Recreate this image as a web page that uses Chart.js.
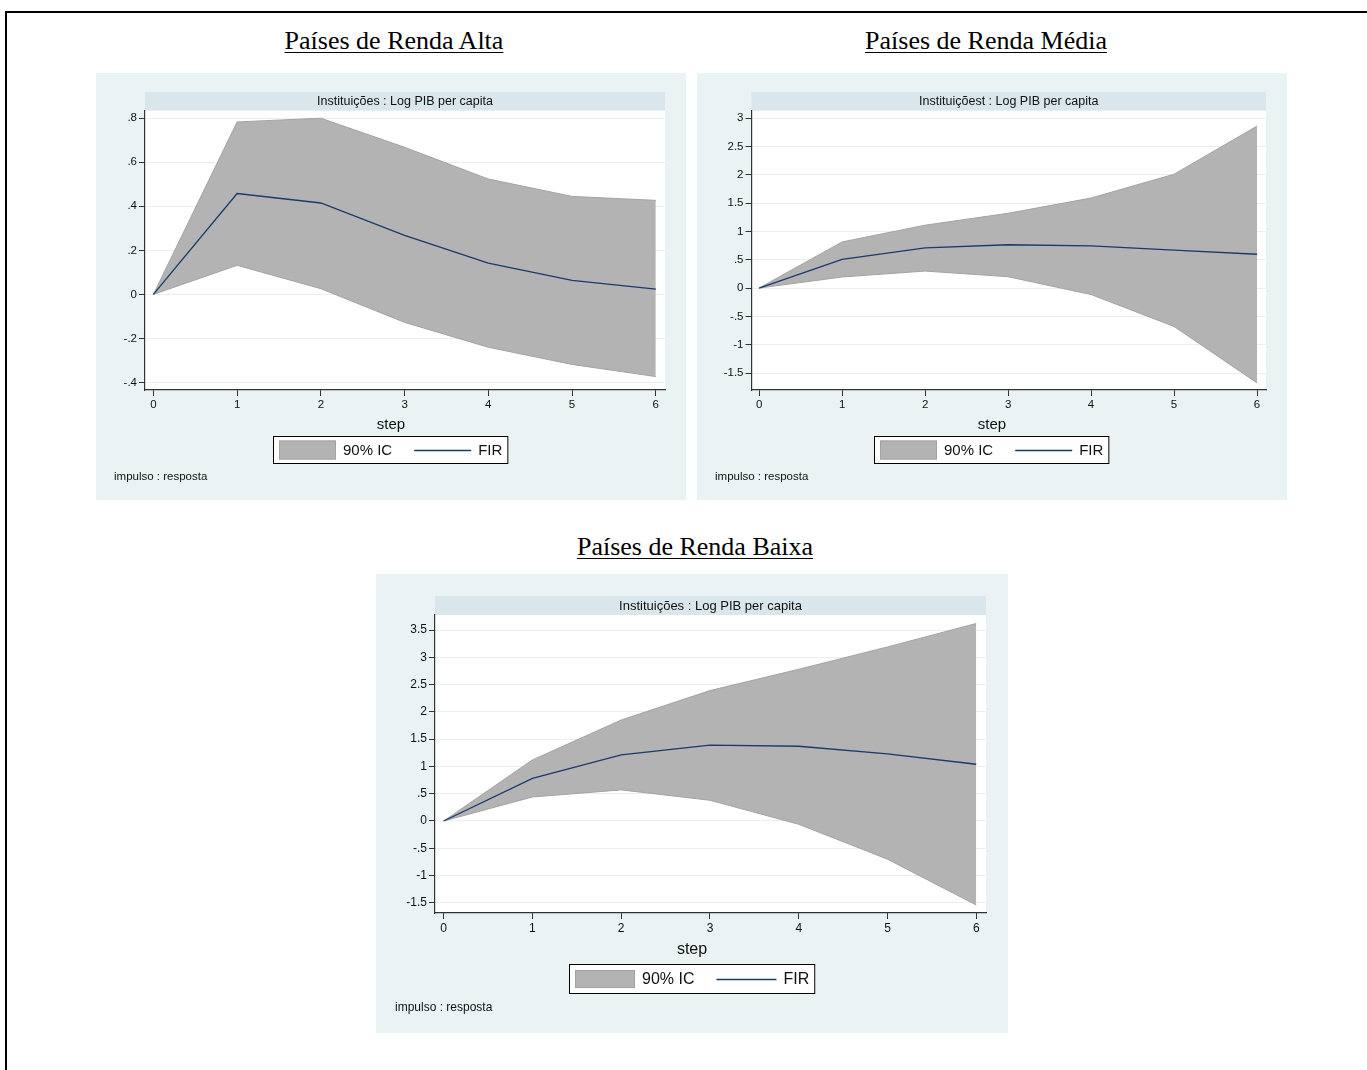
<!DOCTYPE html>
<html lang="pt">
<head>
<meta charset="utf-8">
<title>Funções impulso-resposta: Instituições : Log PIB per capita</title>
<script src="https://cdn.jsdelivr.net/npm/chart.js@4.4.1/dist/chart.umd.min.js"></script>
<style>
  html, body { margin: 0; padding: 0; background: #fff; overflow: hidden; }
  body { width: 1367px; height: 1070px; position: relative; font-family: "Liberation Sans", Arial, sans-serif; }
  .frame { position: absolute; left: 5px; top: 11px; width: 1400px; height: 1100px;
           border-top: 2px solid #000; border-left: 2px solid #000; }
  .heading { position: absolute; width: 400px; text-align: center; color: #000;
             font-family: "Liberation Serif", "Times New Roman", serif; font-size: 26px; line-height: 30px;
             text-decoration: underline; text-decoration-thickness: 1px; text-underline-offset: 3px; }
  .panel { position: absolute; background: #eaf2f3; }
  .panel canvas { display: block; }
</style>
</head>
<body>
<div class="frame"></div>

<div class="heading" style="left:194px; top:26px;">Países de Renda Alta</div>
<div class="heading" style="left:786px; top:26px;">Países de Renda Média</div>
<div class="heading" style="left:495px; top:532px;">Países de Renda Baixa</div>

<div class="panel" style="left:96px; top:73px; width:590px; height:427px;"><canvas id="irfAlta" width="590" height="427"></canvas></div>
<div class="panel" style="left:697px; top:73px; width:590px; height:427px;"><canvas id="irfMedia" width="590" height="427"></canvas></div>
<div class="panel" style="left:376px; top:574px; width:632px; height:459px;"><canvas id="irfBaixa" width="632" height="459"></canvas></div>

<script>
// ── Data ───────────────────────────────────────────────────────────────
const steps = [0, 1, 2, 3, 4, 5, 6];

// Países de Renda Alta
const altaFir   = [0, 0.458, 0.415, 0.268, 0.142, 0.064, 0.024];
const altaUpper = [0, 0.783, 0.800, 0.668, 0.524, 0.445, 0.427];
const altaLower = [0, 0.132, 0.026, -0.127, -0.240, -0.318, -0.373];
const altaTicks = [-0.4, -0.2, 0, 0.2, 0.4, 0.6, 0.8];

// Países de Renda Média
const mediaFir   = [0, 0.508, 0.708, 0.765, 0.744, 0.668, 0.597];
const mediaUpper = [0, 0.815, 1.11, 1.32, 1.59, 2.01, 2.86];
const mediaLower = [0, 0.195, 0.30, 0.20, -0.115, -0.678, -1.675];
const mediaTicks = [-1.5, -1, -0.5, 0, 0.5, 1, 1.5, 2, 2.5, 3];

// Países de Renda Baixa
const baixaFir   = [0, 0.78, 1.21, 1.39, 1.37, 1.23, 1.04];
const baixaUpper = [0, 1.12, 1.85, 2.39, 2.78, 3.19, 3.62];
const baixaLower = [0, 0.44, 0.57, 0.38, -0.06, -0.70, -1.54];
const baixaTicks = [-1.5, -1, -0.5, 0, 0.5, 1, 1.5, 2, 2.5, 3, 3.5];

const stripTitles = ['Instituições : Log PIB per capita', 'Instituiçõest : Log PIB per capita', 'Instituições : Log PIB per capita'];
const xTitle = 'step';
const ciLabel = '90% IC';
const firLabel = 'FIR';
const noteText = 'impulso : resposta';

// ── Styling ───────────────────────────────────────────────────────────
const FONT = '"Liberation Sans", Arial, sans-serif';
const COLORS = {
  area: '#b3b3b3', areaEdge: '#a3a3a3',
  fir: '#1b3a6a',
  strip: '#d9e6eb',
  grid: '#e6eff1',
  axis: '#333',
  text: '#111',
};
Chart.defaults.font.family = FONT;

function stataNum(v) {
  // Stata style: .5, -.4
  return String(Math.round(v * 100) / 100).replace(/^(-?)0\./, '$1.');
}

const pts = arr => steps.map((s, i) => ({ x: s, y: arr[i] }));

// ── Decorations: strip title, plot region, x title, legend box, note ──
const stataDecor = {
  id: 'stataDecor',
  beforeDraw(chart, args, o) {
    const { ctx, chartArea: a } = chart;
    ctx.save();
    ctx.fillStyle = '#fff';
    ctx.fillRect(a.left, a.top, a.right - a.left, a.bottom - a.top);
    ctx.fillStyle = COLORS.strip;
    ctx.fillRect(a.left, a.top - o.stripH, a.right - a.left, o.stripH);
    ctx.restore();
  },
  afterDraw(chart, args, o) {
    const { ctx, chartArea: a } = chart;
    const cx = chart.width / 2;
    ctx.save();
    ctx.fillStyle = COLORS.text;
    ctx.textBaseline = 'middle';

    // strip title
    ctx.font = `${o.stripFont}px ${FONT}`;
    ctx.textAlign = 'center';
    ctx.fillText(o.title, (a.left + a.right) / 2, a.top - o.stripH / 2 + 0.5);

    // x axis title
    ctx.font = `${o.xTitleFont}px ${FONT}`;
    ctx.fillText(xTitle, cx, o.xTitleY);

    // legend
    ctx.font = `${o.legendFont}px ${FONT}`;
    const w1 = ctx.measureText(ciLabel).width, w2 = ctx.measureText(firLabel).width;
    const pad = 6, sw = o.swatchW, gap = 7, sep = 22;
    const total = pad + sw + gap + w1 + sep + sw + gap + w2 + pad;
    const x0 = Math.round(cx - total / 2), y0 = o.legendTop, h = o.legendH;
    const ym = y0 + h / 2;
    ctx.fillStyle = '#fff';
    ctx.fillRect(x0, y0, total, h);
    ctx.strokeStyle = '#000';
    ctx.lineWidth = 1;
    ctx.strokeRect(x0 + 0.5, y0 + 0.5, total - 1, h - 1);

    let x = x0 + pad;
    ctx.fillStyle = COLORS.area;
    ctx.fillRect(x, ym - o.swatchH / 2, sw, o.swatchH);
    ctx.strokeStyle = COLORS.areaEdge;
    ctx.strokeRect(x + 0.5, ym - o.swatchH / 2 + 0.5, sw - 1, o.swatchH - 1);
    x += sw + gap;
    ctx.fillStyle = COLORS.text;
    ctx.textAlign = 'left';
    ctx.fillText(ciLabel, x, ym + 1);
    x += w1 + sep;
    ctx.strokeStyle = COLORS.fir;
    ctx.lineWidth = 1.3;
    ctx.beginPath();
    ctx.moveTo(x, ym + 0.5);
    ctx.lineTo(x + sw, ym + 0.5);
    ctx.stroke();
    x += sw + gap;
    ctx.fillText(firLabel, x, ym + 1);

    // note
    ctx.font = `${o.noteFont}px ${FONT}`;
    ctx.fillText(noteText, o.noteX, o.noteY);
    ctx.restore();
  }
};

function irfChart(id, title, fir, upper, lower, yTicks, g) {
  const canvas = document.getElementById(id);
  return new Chart(canvas, {
    type: 'line',
    data: {
      datasets: [
        { label: firLabel, data: pts(fir), borderColor: COLORS.fir, borderWidth: 1.3,
          pointRadius: 0, fill: false, tension: 0 },
        { label: 'lower', data: pts(lower), borderColor: COLORS.areaEdge, borderWidth: 1,
          pointRadius: 0, fill: false, tension: 0 },
        { label: ciLabel, data: pts(upper), borderColor: COLORS.areaEdge, borderWidth: 1,
          backgroundColor: COLORS.area, pointRadius: 0, fill: 1, tension: 0 },
      ]
    },
    options: {
      responsive: false, animation: false, events: [],
      layout: { padding: { left: g.padL, right: g.padR, top: g.padT, bottom: g.padB } },
      plugins: {
        legend: { display: false }, title: { display: false }, tooltip: { enabled: false },
        stataDecor: { title, ...g.decor },
      },
      scales: {
        x: {
          type: 'linear', min: g.xMin, max: g.xMax,
          afterBuildTicks: s => { s.ticks = steps.map(v => ({ value: v })); },
          afterFit: s => { s.height = g.xAxisH; },
          grid: { drawOnChartArea: false, drawTicks: true, tickLength: 6, tickColor: COLORS.axis, tickWidth: 1 },
          border: { display: true, color: COLORS.axis, width: 1.2 },
          ticks: { autoSkip: false, maxRotation: 0, padding: 2, color: COLORS.text,
                   font: { size: g.tickFont }, callback: v => String(v) },
        },
        y: {
          type: 'linear', min: g.yMin, max: g.yMax,
          afterBuildTicks: s => { s.ticks = yTicks.map(v => ({ value: v })); },
          afterFit: s => { s.width = g.yAxisW; },
          grid: { color: COLORS.grid, lineWidth: 1, drawTicks: true, tickLength: 6, tickColor: COLORS.axis, tickWidth: 1 },
          border: { display: true, color: COLORS.axis, width: 1.2 },
          ticks: { autoSkip: false, padding: 2, color: COLORS.text,
                   font: { size: g.tickFont }, callback: v => stataNum(v) },
        },
      },
    },
    plugins: [stataDecor],
  });
}

const topDecor = { stripH: 18.5, stripFont: 12.5, xTitleFont: 15, xTitleY: 352, legendFont: 15,
  legendTop: 363, legendH: 28, swatchW: 57, swatchH: 19, noteFont: 11.5, noteX: 18, noteY: 404 };

irfChart('irfAlta', stripTitles[0], altaFir, altaUpper, altaLower, altaTicks, {
  padL: 9, yAxisW: 40, padR: 21, padT: 37.5, xAxisH: 24, padB: 86,
  xMin: -0.1, xMax: 6.11, yMin: -0.434, yMax: 0.835, tickFont: 11.5, decor: topDecor });

irfChart('irfMedia', stripTitles[1], mediaFir, mediaUpper, mediaLower, mediaTicks, {
  padL: 14.5, yAxisW: 40, padR: 21, padT: 37.5, xAxisH: 24, padB: 86,
  xMin: -0.092, xMax: 6.108, yMin: -1.8, yMax: 3.135, tickFont: 11.5, decor: topDecor });

irfChart('irfBaixa', stripTitles[2], baixaFir, baixaUpper, baixaLower, baixaTicks, {
  padL: 19, yAxisW: 40, padR: 22, padT: 41, xAxisH: 25, padB: 95,
  xMin: -0.098, xMax: 6.11, yMin: -1.686, yMax: 3.775, tickFont: 12,
  decor: { stripH: 19, stripFont: 13, xTitleFont: 16, xTitleY: 376, legendFont: 16,
    legendTop: 390, legendH: 30, swatchW: 60, swatchH: 18, noteFont: 12, noteX: 19, noteY: 434 } });
</script>
</body>
</html>
